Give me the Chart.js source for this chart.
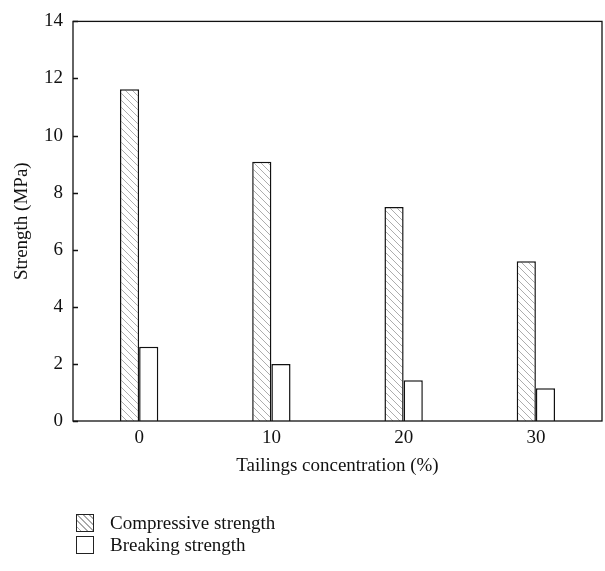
<!DOCTYPE html>
<html>
<head>
<meta charset="utf-8">
<script src="https://cdn.jsdelivr.net/npm/chart.js@4/dist/chart.umd.min.js"></script>
<style>
  html, body { margin: 0; padding: 0; background: #fff; }
  #wrap { position: relative; width: 605px; height: 571px; }
  .legend-item { position: absolute; left: 76px; display: flex; align-items: center;
    font-family: "Liberation Serif", "DejaVu Serif", serif; font-size: 19px; color: #111; }
  .swatch { width: 16px; height: 16px; border: 1px solid #222; margin-right: 16px; background: #fff; }
  .swatch.hatch { background: repeating-linear-gradient(45deg, #fff 0 2.5px, #aaa 2.5px 3.5px, #fff 3.5px 4.3px); }
</style>
</head>
<body>
<div id="wrap">
  <canvas id="chart" width="605" height="571"></canvas>
  <div class="legend-item" style="top:512px"><span class="swatch hatch"></span><span>Compressive strength</span></div>
  <div class="legend-item" style="top:534px"><span class="swatch"></span><span>Breaking strength</span></div>
</div>
<script>
const categories = ['0', '10', '20', '30'];
const compressiveStrength = [11.62, 9.08, 7.5, 5.6];
const breakingStrength = [2.6, 2.0, 1.43, 1.15];
const yMin = 0;
const yMax = 14;
const yStep = 2;

const fontFamily = '"Liberation Serif", "DejaVu Serif", serif';

// diagonal hatch for the compressive bars
const makeHatch = () => {
    const s = 7;
    const c = document.createElement('canvas');
    c.width = s;
    c.height = s;
    const g = c.getContext('2d');
    g.fillStyle = '#fff';
    g.fillRect(0, 0, s, s);
    g.strokeStyle = '#adadad';
    g.lineWidth = 1;
    g.beginPath();
    g.moveTo(0, 0); g.lineTo(s, s);
    g.moveTo(-1, s - 1); g.lineTo(1, s + 1);
    g.moveTo(s - 1, -1); g.lineTo(s + 1, 1);
    g.stroke();
    return g.createPattern(c, 'repeat');
};

// frame round the plot and short inward ticks on the y axis
const framePlugin = {
    id: 'frame',
    afterDraw: (chart) => {
        const {ctx, chartArea} = chart;
        const yScale = chart.scales.y;
        ctx.save();
        ctx.strokeStyle = '#111';
        ctx.lineWidth = 1.3;
        ctx.strokeRect(chartArea.left, chartArea.top, chartArea.right - chartArea.left, chartArea.bottom - chartArea.top);
        ctx.beginPath();
        yScale.ticks.forEach((t, i) => {
            const y = Math.round(yScale.getPixelForTick(i)) + 0.5;
            ctx.moveTo(chartArea.left, y);
            ctx.lineTo(chartArea.left + 5, y);
        });
        ctx.stroke();
        ctx.restore();
    }
};

const ctx = document.querySelector('#chart').getContext('2d');
new Chart(ctx, {
    type: 'bar',
    data: {
        labels: categories,
        datasets: [
            {
                label: 'Compressive strength',
                data: compressiveStrength,
                backgroundColor: makeHatch(),
                borderColor: '#111',
                borderWidth: 1.5,
                borderSkipped: 'start'
            },
            {
                label: 'Breaking strength',
                data: breakingStrength,
                backgroundColor: '#fff',
                borderColor: '#111',
                borderWidth: 1.5,
                borderSkipped: 'start'
            }
        ]
    },
    options: {
        responsive: false,
        animation: false,
        categoryPercentage: 0.29,
        barPercentage: 1,
        layout: { padding: { top: 14, right: 3, bottom: 94, left: 0 } },
        plugins: {
            legend: { display: false },
            tooltip: { enabled: false }
        },
        scales: {
            x: {
                grid: { display: false, drawTicks: false },
                border: { display: false },
                ticks: { color: '#111', padding: 6, font: { family: fontFamily, size: 19 } },
                title: {
                    display: true,
                    text: 'Tailings concentration (%)',
                    color: '#111',
                    padding: 0,
                    font: { family: fontFamily, size: 19 }
                },
                afterFit: (scale) => { scale.height = 56; }
            },
            y: {
                min: yMin,
                max: yMax,
                grid: { display: false, drawTicks: false },
                border: { display: false },
                ticks: { stepSize: yStep, color: '#111', padding: 10, font: { family: fontFamily, size: 19 } },
                title: {
                    display: true,
                    text: 'Strength (MPa)',
                    color: '#111',
                    padding: { top: 11, bottom: 0 },
                    font: { family: fontFamily, size: 19 }
                },
                afterFit: (scale) => { scale.width = 73; }
            }
        }
    },
    plugins: [framePlugin]
});
</script>
</body>
</html>
